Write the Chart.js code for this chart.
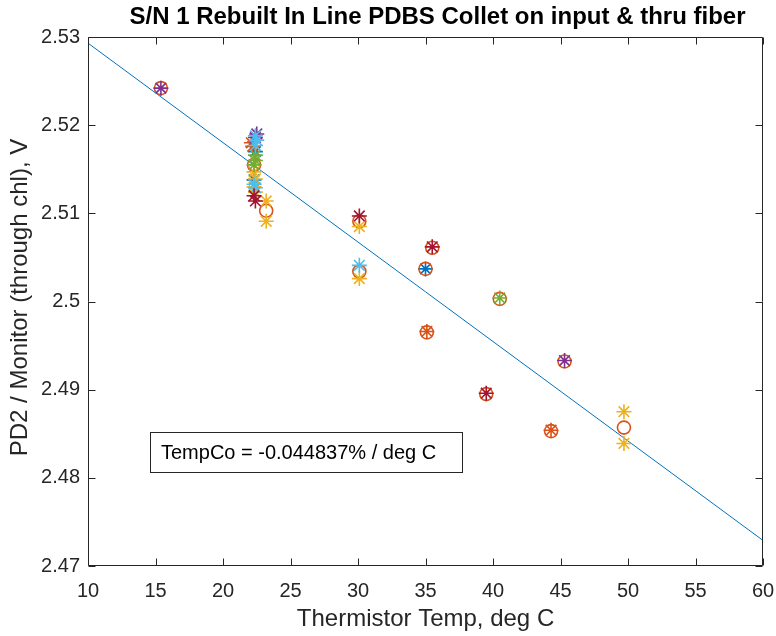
<!DOCTYPE html>
<html>
<head>
<meta charset="utf-8">
<script src="https://cdn.jsdelivr.net/npm/chart.js@4/dist/chart.umd.min.js"></script>
<style>
html,body{margin:0;padding:0;background:#fff;}
#wrap{width:776px;height:636px;position:relative;}
</style>
</head>
<body>
<div id="wrap"><canvas id="c" width="776" height="636"></canvas></div>
<script>
// ---- data ----
const titleText = "S/N 1 Rebuilt In Line PDBS Collet on input & thru fiber";
const xLabel = "Thermistor Temp, deg C";
const yLabel = "PD2 / Monitor (through chl), V";
const noteText = "TempCo = -0.044837% / deg C";

const xTicks = [10, 15, 20, 25, 30, 35, 40, 45, 50, 55, 60];
const yTicks = [2.47, 2.48, 2.49, 2.5, 2.51, 2.52, 2.53];

// fitted line end points
const fitX = [10, 60];
const fitY = [2.5293, 2.4729];

// star markers by MATLAB colour order
const blueX = [35.0, 22.4, 22.3];
const blueY = [2.5037, 2.5170, 2.5138];
const orangeX = [35.1, 44.3, 22.1, 22.2];
const orangeY = [2.4966, 2.4854, 2.5180, 2.5176];
const yellowX = [23.2, 23.2, 49.7, 49.7, 30.1, 30.1, 22.3, 22.4, 22.3, 22.4];
const yellowY = [2.5114, 2.5091, 2.4875, 2.4839, 2.5085, 2.5026, 2.5147, 2.5139, 2.5130, 2.5124];
const purpleX = [15.4, 45.3, 22.5, 22.4];
const purpleY = [2.5242, 2.4933, 2.5190, 2.5186];
const greenX = [40.5, 22.4, 22.4, 22.3];
const greenY = [2.5004, 2.5166, 2.5160, 2.5155];
const lightBlueX = [30.1, 22.4, 22.5, 22.4, 22.3, 22.4];
const lightBlueY = [2.5041, 2.5188, 2.5183, 2.5177, 2.5133, 2.5129];
const darkRedX = [30.1, 35.5, 39.5, 22.3, 22.4];
const darkRedY = [2.5097, 2.5062, 2.4896, 2.5120, 2.5114];

// mean circles
const meanX = [15.4, 22.3, 23.2, 30.1, 30.1, 35.0, 35.5, 40.5, 35.1, 39.5, 44.3, 45.3, 49.7];
const meanY = [2.5242, 2.5155, 2.5103, 2.5091, 2.5034, 2.5037, 2.5061, 2.5003, 2.4965, 2.4895, 2.4853, 2.4932, 2.4857];

const C = {
  blue: '#0072BD', orange: '#D95319', yellow: '#EDB120', purple: '#7E2F8E',
  green: '#77AC30', lightBlue: '#4DBEEE', darkRed: '#A2142F'
};
const axisColor = '#262626';
const FONT = "'Liberation Sans', Arial, Helvetica, sans-serif";

function pts(xs, ys){ return xs.map((x,i)=>({x:x, y:ys[i]})); }
function starSet(xs, ys, color){
  return {type:'scatter', data:pts(xs,ys), pointStyle:'star', pointRadius:7.5,
    pointBorderColor:color, pointBackgroundColor:color, pointBorderWidth:1.6, showLine:false};
}

const datasets = [
  {type:'line', data:pts(fitX, fitY), borderColor:C.blue, borderWidth:1, pointRadius:0, fill:false, tension:0, order:0},
  Object.assign(starSet(blueX, blueY, C.blue), {order:1}),
  {type:'scatter', data:pts(meanX, meanY), pointStyle:'circle', pointRadius:6.5, pointBorderColor:C.orange,
    pointBackgroundColor:'rgba(0,0,0,0)', pointBorderWidth:1.6, order:2},
  Object.assign(starSet(orangeX, orangeY, C.orange), {order:3}),
  Object.assign(starSet(yellowX, yellowY, C.yellow), {order:4}),
  Object.assign(starSet(purpleX, purpleY, C.purple), {order:5}),
  Object.assign(starSet(greenX, greenY, C.green), {order:6}),
  Object.assign(starSet(lightBlueX, lightBlueY, C.lightBlue), {order:7}),
  Object.assign(starSet(darkRedX, darkRedY, C.darkRed), {order:8})
];
// Chart.js draws higher order first; reverse so later MATLAB plots are on top
datasets.forEach(d => { d.order = 20 - d.order; });

const decor = {
  id:'decor',
  afterDatasetsDraw(chart){
    const ctx = chart.ctx, a = chart.chartArea;
    const xs = chart.scales.x, ys = chart.scales.y;
    ctx.save();
    ctx.strokeStyle = axisColor; ctx.lineWidth = 1;
    const L = Math.round(a.left)+0.5, R = Math.round(a.right)-0.5, T = Math.round(a.top)+0.5, B = Math.round(a.bottom)-0.5;
    ctx.beginPath();
    ctx.rect(L, T, R-L, B-T);
    const tl = 7;
    xTicks.forEach(v => {
      const p = Math.round(xs.getPixelForValue(v))+0.5;
      ctx.moveTo(p, B); ctx.lineTo(p, B-tl);
      ctx.moveTo(p, T); ctx.lineTo(p, T+tl);
    });
    yTicks.forEach(v => {
      const p = Math.round(ys.getPixelForValue(v))+0.5;
      ctx.moveTo(L, p); ctx.lineTo(L+tl, p);
      ctx.moveTo(R, p); ctx.lineTo(R-tl, p);
    });
    ctx.stroke();

    // annotation box
    const bx = 150.5, by = 432.5, bw = 312, bh = 40;
    ctx.fillStyle = '#fff';
    ctx.fillRect(bx, by, bw, bh);
    ctx.strokeStyle = '#262626';
    ctx.strokeRect(bx, by, bw, bh);
    ctx.fillStyle = '#000';
    ctx.font = "20px " + FONT;
    ctx.textBaseline = 'middle'; ctx.textAlign = 'left';
    ctx.fillText(noteText, 161, by + bh/2 + 1);

    // title
    ctx.font = "bold 24px " + FONT;
    ctx.textAlign = 'center'; ctx.textBaseline = 'middle';
    ctx.fillStyle = '#000';
    ctx.fillText(titleText, (a.left + a.right)/2 + 12, 17);

    // axis labels
    ctx.font = "24px " + FONT;
    ctx.fillStyle = axisColor;
    ctx.fillText(xLabel, (a.left + a.right)/2, 619);
    ctx.save();
    ctx.translate(20, (a.top + a.bottom)/2 - 4);
    ctx.rotate(-Math.PI/2);
    ctx.fillText(yLabel, 0, 0);
    ctx.restore();
    ctx.restore();
  }
};

new Chart(document.getElementById('c'), {
  data:{datasets:datasets},
  options:{
    responsive:false, animation:false, devicePixelRatio:1,
    layout:{padding:{top:37, right:13, left:0, bottom:0}},
    plugins:{legend:{display:false}, tooltip:{enabled:false}, title:{display:false}},
    scales:{
      x:{type:'linear', min:10, max:60,
        afterFit(s){ s.height = 70; s.paddingLeft = 0; s.paddingRight = 0; },
        afterBuildTicks(s){ s.ticks = xTicks.map(v=>({value:v})); },
        grid:{display:false, drawTicks:false}, border:{display:false},
        ticks:{color:axisColor, font:{family:FONT, size:20}, padding:13, maxRotation:0, autoSkip:false,
          callback:(v)=>String(v)}},
      y:{type:'linear', min:2.47, max:2.53,
        afterFit(s){ s.width = 88; s.paddingTop = 0; s.paddingBottom = 0; },
        afterBuildTicks(s){ s.ticks = yTicks.map(v=>({value:v})); },
        grid:{display:false, drawTicks:false}, border:{display:false},
        ticks:{color:axisColor, font:{family:FONT, size:20}, padding:8, autoSkip:false,
          callback:(v)=>String(parseFloat(Number(v).toFixed(2)))}}
    }
  },
  plugins:[decor]
});
</script>
</body>
</html>
